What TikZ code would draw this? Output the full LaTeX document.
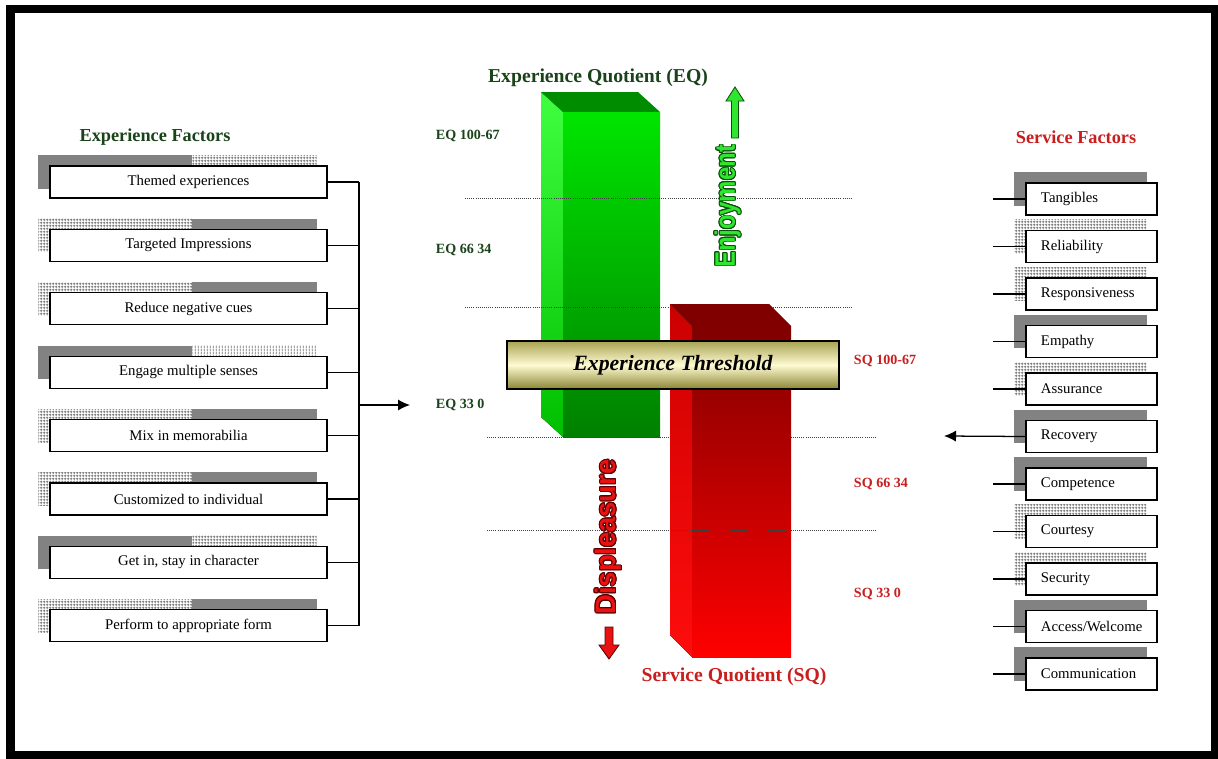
\documentclass[tikz,border=0pt]{standalone}
\usepackage{fontspec}
\setmainfont{Liberation Serif}
\newfontfamily\blockfont{Liberation Sans}
\usepackage{contour}
\contourlength{0.7pt}
\usetikzlibrary{positioning, calc, arrows.meta, patterns, backgrounds}

\definecolor{eqgreen}{HTML}{1A431A}
\definecolor{sqred}{HTML}{C81E1E}
\definecolor{shgray}{HTML}{828282}
\definecolor{enjoygreen}{HTML}{2EE62E}
\definecolor{enjoydark}{HTML}{0B4F0B}
\definecolor{displred}{HTML}{E81212}
\definecolor{displdark}{HTML}{5A0000}
\definecolor{thrtop}{HTML}{A8A252}
\definecolor{thrmid}{HTML}{FFFBD2}
\definecolor{thrbot}{HTML}{8A8532}

% fine shadow textures
\pgfdeclarepatternformonly{finegrid}{\pgfpointorigin}{\pgfqpoint{1.9pt}{1.9pt}}{\pgfqpoint{1.9pt}{1.9pt}}{
  \pgfsetlinewidth{0.7pt}
  \pgfpathmoveto{\pgfqpoint{0pt}{0.95pt}}\pgfpathlineto{\pgfqpoint{1.9pt}{0.95pt}}
  \pgfpathmoveto{\pgfqpoint{0.95pt}{0pt}}\pgfpathlineto{\pgfqpoint{0.95pt}{1.9pt}}
  \pgfusepath{stroke}
}
\pgfdeclarepatternformonly{finelines}{\pgfpointorigin}{\pgfqpoint{2.2pt}{2.2pt}}{\pgfqpoint{2.2pt}{2.2pt}}{
  \pgfsetlinewidth{0.7pt}
  \pgfpathmoveto{\pgfqpoint{1.1pt}{0pt}}\pgfpathlineto{\pgfqpoint{1.1pt}{2.2pt}}
  \pgfusepath{stroke}
}

\tikzset{
  lbox/.style={draw, line width=0.8pt, fill=white, minimum width=6.925cm,
    minimum height=0.8cm, inner sep=0pt, font=\fontsize{10.5}{12}\selectfont},
  rbox/.style={draw, line width=0.8pt, fill=white, text width=2.525cm,
    inner xsep=0.375cm, inner ysep=0pt, minimum height=0.8cm, align=left,
    font=\fontsize{10.5}{12}\selectfont},
  shsolid/.style={fill=shgray},
  shgrid/.style={pattern=finegrid, pattern color=black!55},
  shlines/.style={pattern=finelines, pattern color=black!55},
  conn/.style={line width=0.9pt},
  guide/.style={densely dotted, line width=0.5pt, black!75},
  eqlabel/.style={anchor=west, text=eqgreen, font=\bfseries\fontsize{10}{12}\selectfont},
  sqlabel/.style={anchor=west, text=sqred, font=\bfseries\fontsize{10}{12}\selectfont},
  tip/.style={-{Latex[length=3mm,width=2.8mm]}}
}

\begin{document}
\begin{tikzpicture}[x=0.025cm, y=-0.025cm]
  \useasboundingbox (0,0) rectangle (1218,758);

  % Frame
  \draw[line width=6pt] (10.5,9) rectangle (1215,755);

  % Titles
  \node[text=eqgreen, font=\bfseries\fontsize{13}{15}\selectfont] (eftitle) at (155,137) {Experience Factors};
  \node[text=sqred, font=\bfseries\fontsize{13}{15}\selectfont] (sftitle) at (1076,137) {Service Factors};
  \node[text=eqgreen, font=\bfseries\fontsize{14}{16}\selectfont] (eqtitle) at (598,78) {Experience Quotient (EQ)};
  \node[text=sqred, font=\bfseries\fontsize{14}{16}\selectfont] (sqtitle) at (734,677) {Service Quotient (SQ)};

  % Experience factor boxes
  \foreach \t [count=\i] in {Themed experiences, Targeted Impressions, Reduce negative cues,
      Engage multiple senses, Mix in memorabilia, Customized to individual,
      {Get in, stay in character}, Perform to appropriate form}
    \node[lbox] (l\i) at (188.5,{182+63.4*(\i-1)}) {\t};

  % Service factor boxes
  \foreach \t [count=\i] in {Tangibles, Reliability, Responsiveness, Empathy, Assurance,
      Recovery, Competence, Courtesy, Security, Access/Welcome, Communication}
    \node[rbox] (r\i) at (1091.5,{199+47.5*(\i-1)}) {\t};

  % Box shadows
  \begin{scope}[on background layer]
    \foreach \n/\a/\b in {l1/shsolid/shgrid, l2/shgrid/shsolid, l3/shgrid/shsolid,
        l4/shsolid/shlines, l5/shgrid/shsolid, l6/shgrid/shsolid,
        l7/shsolid/shgrid, l8/shgrid/shsolid}{
      \path[\a] ($(\n.north west)+(-11,-10)$) rectangle ($(\n.south west)+(143,-10)$);
      \path[\b] ($(\n.north west)+(143,-10)$) rectangle ($(\n.south east)+(-11,-10)$);
    }
    \foreach \n/\a in {r1/shsolid, r2/shgrid, r3/shgrid, r4/shsolid, r5/shgrid, r6/shsolid,
        r7/shsolid, r8/shgrid, r9/shgrid, r10/shsolid, r11/shsolid}
      \path[\a] ($(\n.north west)+(-11,-10)$) rectangle ($(\n.south east)+(-11,-10)$);
  \end{scope}

  % Left connectors
  \coordinate (lbus) at (359,0);
  \foreach \i in {1,...,8}
    \draw[conn] (l\i.east) -- (l\i.east -| lbus);
  \draw[conn] (l1.east -| lbus) -- (l8.east -| lbus);
  \coordinate (eqin) at (410,405);
  \draw[conn, tip] (lbus |- eqin) -- (eqin);

  % Right connectors
  \coordinate (rbus) at (993,0);
  \foreach \i in {1,...,11}
    \draw[conn] (r\i.west) -- (r\i.west -| rbus);
  \coordinate (sqout) at (944,436);
  \draw[conn, tip] (r6.west) -- (sqout);

  % Green bar
  \fill[top color=green!75!white, bottom color=green!75!black] (541,92) -- (563,112) -- (563,437) -- (541,417) -- cycle;
  \fill[green!55!black] (541,92) -- (638,92) -- (660,112) -- (563,112) -- cycle;
  \fill[top color=green!90!black, bottom color=green!50!black] (563,112) rectangle (660,437);

  % Guide lines
  \draw[guide] (465,198) -- (853,198);
  \draw[guide] (465,307) -- (853,307);
  \draw[guide] (487,437) -- (877,437);

  % Red bar
  \fill[top color=red!80!black, bottom color=red!95!white] (670,304) -- (692,326) -- (692,657) -- (670,635) -- cycle;
  \fill[red!50!black] (670,304) -- (769,304) -- (791,326) -- (692,326) -- cycle;
  \fill[top color=red!50!black, bottom color=red] (692,326) rectangle (791,657);
  \draw[guide] (487,530) -- (877,530);

  % Threshold
  \node[draw, line width=1.2pt, minimum width=8.3cm, minimum height=1.2cm,
    top color=thrtop, bottom color=thrbot, middle color=thrmid,
    font=\bfseries\itshape\fontsize{15.5}{18}\selectfont] (thr) at (673,365) {Experience Threshold};

  % Quotient labels
  \node[eqlabel] (eq1) at (431,136) {EQ 100-67};
  \node[eqlabel] (eq2) at (431,250) {EQ 66 34};
  \node[eqlabel] (eq3) at (431,405) {EQ 33 0};
  \node[sqlabel] (sq1) at (849,361) {SQ 100-67};
  \node[sqlabel] (sq2) at (849,484) {SQ 66 34};
  \node[sqlabel] (sq3) at (849,594) {SQ 33 0};

  % Enjoyment and displeasure
  \node[rotate=90, text=enjoygreen, font=\blockfont\bfseries\fontsize{20}{20}\selectfont] (enj) at (728,206)
    {\scalebox{0.85}[1]{\contour{enjoydark}{Enjoyment}}};
  \filldraw[fill=enjoygreen, draw=enjoydark, line width=0.6pt]
    (731.5,138) -- (731.5,101) -- (726,101) -- (735,87) -- (744,101) -- (738.5,101) -- (738.5,138) -- cycle;
  \node[rotate=90, text=displred, font=\blockfont\bfseries\fontsize{20}{20}\selectfont] (dis) at (609,537)
    {\scalebox{0.97}[1]{\contour{displdark}{Displeasure}}};
  \filldraw[fill=displred, draw=displdark, line width=0.6pt]
    (605,627) -- (605,645) -- (599,645) -- (609,659) -- (619,645) -- (613,645) -- (613,627) -- cycle;
\end{tikzpicture}
\end{document}
